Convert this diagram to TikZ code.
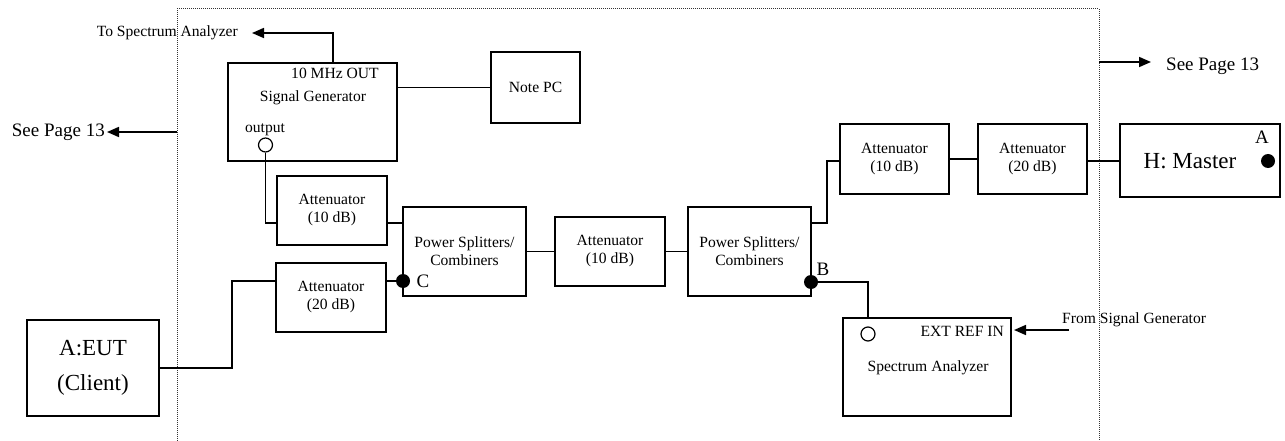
\documentclass[tikz,border=0pt]{standalone}
\usepackage{fontspec}
\setmainfont{Liberation Serif}
\usetikzlibrary{arrows.meta}
\newcommand{\fsm}{\fontsize{15.6}{18}\selectfont}
\newcommand{\fmid}{\fontsize{19}{22}\selectfont}
\newcommand{\fbig}{\fontsize{23}{35}\selectfont}
\begin{document}
\begin{tikzpicture}[x=1pt,y=-1pt,
  box/.style={draw, rectangle, line width=1.3pt, inner sep=0pt, align=center, font=\fsm},
  lbl/.style={inner sep=0pt, font=\fsm},
  mlbl/.style={inner sep=0pt, font=\fmid},
  dotc/.style={circle, fill=black, minimum size=14pt, inner sep=0pt},
  port/.style={circle, draw, line width=1.2pt, minimum size=14pt, inner sep=0pt},
  wire/.style={line width=1.3pt},
  arr/.style={line width=1.7pt, -{Triangle[length=12pt,width=10pt]}},
  frame/.style={line width=1pt, gray!40!black, dash pattern=on 1pt off 1pt}]
\useasboundingbox (0,0) rectangle (1285,441);
% frame
\coordinate (fbl) at (177,441);
\coordinate (ftl) at (177,9);
\coordinate (ftr) at (1099,9);
\coordinate (fbr) at (1099,441);
\draw[frame] (fbl) -- (ftl) -- (ftr) -- (fbr);
% boxes
\node[box, minimum width=169pt, minimum height=98pt] (sg) at (312.5,112) {};
\node[lbl] (sgt1) at (335,73) {10 MHz OUT};
\node[lbl] (sgt2) at (313,98) {Signal Generator};
\node[lbl] (sgt3) at (265,130) {output};
\node[port] (outc) at (265.5,145) {};
\node[box, minimum width=89pt, minimum height=71pt] (pc) at (535.5,87.5) {Note PC};
\node[box, minimum width=110pt, minimum height=69pt] (a1) at (332,210.5) {Attenuator\\(10 dB)};
\node[box, minimum width=110pt, minimum height=69pt] (a2) at (331,297.5) {Attenuator\\(20 dB)};
\node[box, minimum width=132pt, minimum height=96pt, font=\fbig] (eut) at (93,368) {A:EUT\\(Client)};
\node[box, minimum width=123pt, minimum height=89pt] (ps1) at (464.5,251.5) {Power Splitters/\\Combiners};
\node[box, minimum width=110pt, minimum height=69pt] (a3) at (610,251.5) {Attenuator\\(10 dB)};
\node[box, minimum width=123pt, minimum height=89pt] (ps2) at (749.5,251.5) {Power Splitters/\\Combiners};
\node[box, minimum width=109pt, minimum height=70pt] (a4) at (894.5,159) {Attenuator\\(10 dB)};
\node[box, minimum width=109pt, minimum height=70pt] (a5) at (1032.5,159) {Attenuator\\(20 dB)};
\node[box, minimum width=160pt, minimum height=73pt] (hm) at (1200,160.5) {};
\node[inner sep=0pt, font=\fbig] (hmt) at (1190,161) {H: Master};
\node[mlbl] (hma) at (1262,137) {A};
\node[dotc] (dotA) at (1268,161) {};
\node[box, minimum width=168pt, minimum height=98pt] (sa) at (927,367) {};
\node[port] (sac) at (868,334) {};
\node[lbl, anchor=east] (sat1) at (1004,331) {EXT REF IN};
\node[lbl] (sat2) at (928,368) {Spectrum Analyzer};
% dots
\node[dotc] (dotC) at (403,281) {};
\node[mlbl] (lc) at (423,281) {C};
\node[dotc] (dotB) at (811,282) {};
\node[mlbl] (lb) at (823,269) {B};
% external labels and arrows
\coordinate (tsaTurn) at (333,33);
\coordinate (tsaEnd) at (252,33);
\node[lbl, anchor=east] (tsa) at (238,33) {To Spectrum Analyzer};
\draw[arr] (sg.north -| tsaTurn) -- (tsaTurn) -- (tsaEnd);
\coordinate (spl0) at (177,132);
\coordinate (spl1) at (107,132);
\draw[arr] (spl0) -- (spl1);
\node[mlbl, anchor=east] (spl) at (105,132) {See Page 13};
\coordinate (spr0) at (1099,62);
\coordinate (spr1) at (1151,62);
\draw[arr] (spr0) -- (spr1);
\node[mlbl, anchor=west] (spr) at (1166,66) {See Page 13};
\coordinate (fsg0) at (1069,330);
\coordinate (fsg1) at (1014,330);
\draw[arr] (fsg0) -- (fsg1);
\node[lbl, anchor=west] (fsg) at (1062,320) {From Signal Generator};
% wires
\draw[wire] (sg.east |- pc.west) -- (pc.west);
\coordinate (j1) at (265.5,223);
\draw[wire] (outc.south) -- (j1) -- (j1 -| a1.west);
\draw[wire] ([yshift=-12.5pt]a1.east) -- ([yshift=-12.5pt]a1.east -| ps1.west);
\coordinate (j2) at (232,281);
\draw[wire] (eut.east) -| (j2) -- (j2 -| a2.west);
\draw[wire] (dotC -| a2.east) -- (dotC);
\draw[wire] (ps1.east) -- (a3.west);
\draw[wire] (a3.east) -- (ps2.west);
\coordinate (j3) at (827,161);
\draw[wire] ([yshift=28.5pt]ps2.east) -| (j3) -- (j3 -| a4.west);
\draw[wire] (a4.east) -- (a5.west);
\draw[wire] (a5.east |- hmt) -- (hm.west |- hmt);
\coordinate (j4) at (868,282);
\draw[wire] (dotB) -- (j4) -- (j4 |- sa.north);
\end{tikzpicture}
\end{document}
